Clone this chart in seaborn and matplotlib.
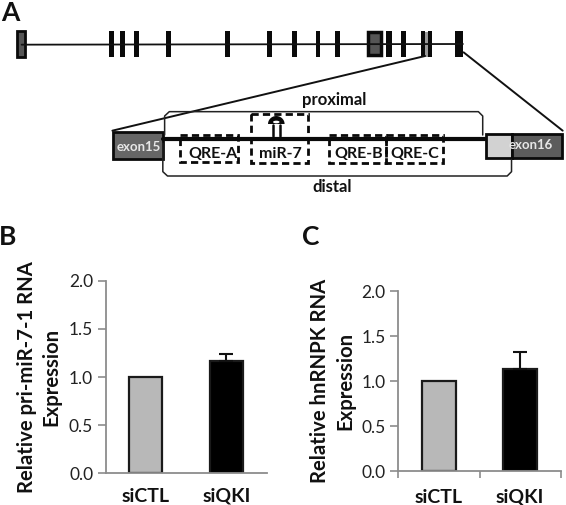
import numpy as np
import pandas as pd
import matplotlib
matplotlib.use('Agg')
import matplotlib.pyplot as plt
import seaborn as sns
from matplotlib.patches import Rectangle

categories = ['siCTL', 'siQKI']
pri_mir_values = [1.0, 1.17]
pri_mir_errors = [0.0, 0.07]
hnrnpk_values = [1.0, 1.14]
hnrnpk_errors = [0.0, 0.18]
y_ticks = [0.0, 0.5, 1.0, 1.5, 2.0]
bar_colors = ['#b8b8b8', '#000000']
panel_names = ['A', 'B', 'C']
region_names = ['QRE-A', 'miR-7', 'QRE-B', 'QRE-C']

W, H = 566, 505
SX, SY = 2.776, 3.0
sns.set_theme(style='white')
plt.rcParams['font.family'] = ['Lato', 'DejaVu Sans']


def px_axes(fig, left, right, top, bottom):
    return fig.add_axes([left / W, 1 - bottom / H, (right - left) / W, (bottom - top) / H])


def draw_bars(ax, values, errors, label, show_xticks, labelpad, xpad):
    df = pd.DataFrame({'group': categories, 'value': values})
    sns.barplot(data=df, x='group', y='value', hue='group', palette=bar_colors, legend=False,
                width=0.41, edgecolor='#1a1a1a', linewidth=1.6, ax=ax)
    ax.errorbar([1], values[1:], yerr=[[0], errors[1:]], color='#111111', elinewidth=1.5,
                capsize=5, capthick=1.5, fmt='none')
    ax.set_xlim(-0.5, 1.5)
    ax.set_ylim(0, 2)
    ax.set_yticks(y_ticks)
    ax.set_yticklabels([f'{v:.1f}' for v in y_ticks], fontsize=12.5, color='#222222')
    ax.set_xticks([0, 1])
    ax.set_xticklabels(categories, fontsize=14, fontweight='bold', color='#111111')
    ax.tick_params(axis='y', left=True, length=6, width=1.2, color='#8c8c8c', pad=3)
    ax.tick_params(axis='x', which='major', bottom=False, length=0, pad=xpad)
    if show_xticks:
        ax.set_xticks([-0.5, 0.5, 1.5], minor=True)
        ax.tick_params(axis='x', which='minor', bottom=True, length=5, width=1.2, color='#8c8c8c')
    ax.set_xlabel('')
    ax.set_ylabel(label, fontsize=14.6, fontweight='bold', color='#111111', linespacing=1.3, labelpad=labelpad)
    for s in ['top', 'right']:
        ax.spines[s].set_visible(False)
    for s in ['left', 'bottom']:
        ax.spines[s].set_color('#8c8c8c')
        ax.spines[s].set_linewidth(1.3)


def draw_schematic(ax):
    def zx(v):
        return np.array(v) / SX

    def zy(v):
        return np.array(v) / SY

    def box(x0, x1, y0, y1, **kw):
        ax.add_patch(Rectangle((x0 / SX, y0 / SY), (x1 - x0) / SX, (y1 - y0) / SY, **kw))

    ax.plot(zx([60, 1285]), zy([134, 132]), color='#111111', lw=1.3)
    exons = [(303, 317), (332, 347), (371, 387), (461, 475), (625, 639), (741, 755), (810, 825),
             (877, 889), (930, 945), (1072, 1088), (1113, 1128), (1168, 1180), (1187, 1200), (1263, 1285)]
    for a, b in exons:
        box(a, b, 94, 170, fc='#0a0a0a', ec='none')
    box(47, 70, 94, 172, fc='#555555', ec='#0a0a0a', lw=2)
    box(1022, 1059, 97, 166, fc='#555555', ec='#0a0a0a', lw=2.5)
    box(1180, 1187, 96, 170, fc='#9a9a9a', ec='none')

    ax.plot(zx([1180, 312]), zy([168, 392]), color='#111111', lw=1.4)
    ax.plot(zx([1287, 1562]), zy([157, 392]), color='#111111', lw=1.4)

    # proximal and distal brackets
    ax.plot(zx([457, 457, 470, 1328, 1340, 1340]), zy([405, 348, 335, 335, 348, 405]), color='#222222', lw=1.1)
    ax.plot(zx([452, 452, 465, 1408, 1420, 1420]), zy([430, 515, 528, 528, 515, 478]), color='#222222', lw=1.1)

    # exon boxes and intron
    box(314, 452, 397, 478, fc='#666666', ec='#0a0a0a', lw=2)
    box(1348, 1420, 402, 474, fc='#d2d2d2', ec='#0a0a0a', lw=2)
    box(1420, 1560, 402, 474, fc='#5c5c5c', ec='#0a0a0a', lw=2)
    ax.plot(zx([452, 1345]), zy([417, 417]), color='#0a0a0a', lw=3)
    ax.text(385 / SX, 442 / SY, 'exon15', color='#e6e6e6', fontsize=9.5, fontweight='bold', ha='center', va='center')
    ax.text(1472 / SX, 434 / SY, 'exon16', color='#e6e6e6', fontsize=9.5, fontweight='bold', ha='center', va='center')

    # dashed boxes around the regions
    boxes = [(500, 660, 405, 487), (697, 855, 343, 490), (912, 1072, 405, 490), (1072, 1230, 405, 490)]
    centers = [590, 777, 995, 1150]
    for (x0, x1, y0, y1), name, c in zip(boxes, region_names, centers):
        box(x0, x1, y0, y1, fc='none', ec='#0a0a0a', lw=2, ls=(0, (2.6, 1.5)))
        ax.text(c / SX, 461 / SY, name, color='#111111', fontsize=11.5, fontweight='bold', ha='center', va='center')

    # hairpin
    ax.plot(zx([757, 757]), zy([408, 376]), color='#0a0a0a', lw=1.8)
    ax.plot(zx([778, 778]), zy([408, 376]), color='#0a0a0a', lw=1.8)
    t = np.linspace(0, np.pi, 30)
    ax.fill(zx(767 + 23 * np.cos(t)), zy(372 - 24 * np.sin(t)), color='#0a0a0a', lw=0)
    ax.fill(zx(767 + 9 * np.cos(2 * t)), zy(366 + 4 * np.sin(2 * t)), color='white', lw=0)

    ax.text(927 / SX, 300 / SY, 'proximal', color='#111111', fontsize=12, fontweight='bold', ha='center', va='center')
    ax.text(922 / SX, 562 / SY, 'distal', color='#111111', fontsize=12, fontweight='bold', ha='center', va='center')


fig = plt.figure(figsize=(W / 100, H / 100), dpi=100)

overlay = fig.add_axes([0, 0, 1, 1])
overlay.set_xlim(0, W)
overlay.set_ylim(H, 0)
overlay.axis('off')
draw_schematic(overlay)
for name, x, y in zip(panel_names, [10, 8, 311], [13, 237, 237]):
    overlay.text(x, y, name, fontsize=19, fontweight='bold', color='#111111', ha='center', va='center')

ax_b = px_axes(fig, 105.7, 266.7, 280.7, 473.3)
draw_bars(ax_b, pri_mir_values, pri_mir_errors, 'Relative pri-miR-7-1 RNA\nExpression', False, 5.5, 10.5)

ax_c = px_axes(fig, 398.3, 560.7, 291, 471.3)
draw_bars(ax_c, hnrnpk_values, hnrnpk_errors, 'Relative hnRNPK RNA\nExpression', True, 4.5, 12.5)

fig.savefig('out.png', dpi=100)
